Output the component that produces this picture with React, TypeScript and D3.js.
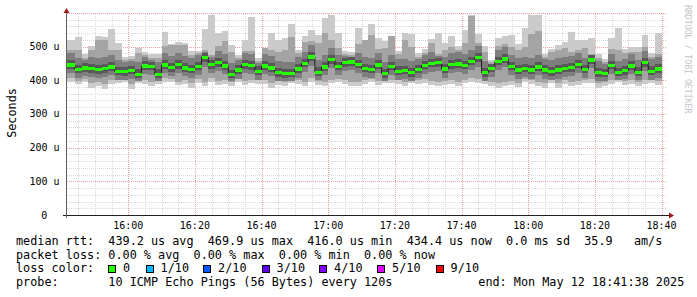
import React from 'react';
import * as d3 from 'd3';

// ---------- data (µs) ----------
const median = [445,445,432,436,434,431,434,439,426,425,429,418,442,441,418,445,437,446,436,432,441,468,446,452,442,417,430,446,443,427,442,436,422,419,420,433,450,469,424,439,461,441,452,454,447,435,432,445,419,441,427,429,422,432,444,450,452,433,446,448,444,456,467,422,435,456,463,441,430,435,430,439,430,425,430,435,437,447,432,460,422,420,444,423,428,442,424,452,427,433];
const ping10 = [519,519,528,477,501,530,528,551,511,469,471,496,484,477,477,542,508,514,511,487,488,551,594,540,545,504,474,519,588,465,496,540,519,525,567,491,531,548,534,584,594,540,487,483,554,519,566,525,517,531,487,541,537,482,492,521,539,510,530,501,548,594,538,501,461,525,531,534,507,554,593,593,477,494,504,513,542,519,519,525,477,464,525,554,492,498,498,534,481,540];
const ping9 = [489,489,489,465,489,519,519,489,490,460,462,480,475,465,465,501,504,504,504,475,482,490,474,501,517,485,465,487,487,458,496,489,484,490,528,480,513,517,509,541,520,495,478,475,507,519,533,494,495,531,478,519,500,470,480,509,479,490,500,490,510,590,511,485,455,502,506,499,490,499,538,545,470,485,489,495,484,490,495,477,465,455,494,491,480,485,485,500,470,479];
const ping8 = [480,480,467,459,469,466,469,474,461,454,456,453,469,459,453,480,472,481,471,467,476,484,468,487,477,452,459,481,478,452,477,471,457,454,455,468,485,504,459,474,496,476,472,469,482,470,467,480,454,476,462,464,457,464,474,485,473,468,481,483,479,491,502,457,449,491,498,476,465,470,465,474,464,460,465,470,472,482,467,471,457,449,479,458,463,477,459,487,462,468];
const ping7 = [459,459,446,450,448,445,448,453,440,439,443,432,456,455,432,459,451,460,450,446,455,482,460,466,456,431,444,460,457,441,456,450,436,433,434,447,464,483,438,453,475,455,466,468,461,449,446,459,433,455,441,443,436,446,458,464,466,447,460,462,458,470,481,436,449,470,477,455,444,449,444,453,444,439,444,449,451,461,446,474,436,434,458,437,442,456,438,466,441,447];
const ping6 = [449,449,436,440,438,435,438,443,430,429,433,422,446,445,422,449,441,450,440,436,445,472,450,456,446,421,434,450,447,431,446,440,426,423,424,437,454,473,428,443,465,445,456,458,451,439,436,449,423,445,431,433,426,436,448,454,456,437,450,452,448,460,471,426,439,460,467,445,434,439,434,443,434,429,434,439,441,451,436,464,426,424,448,427,432,446,428,456,431,437];
const ping5 = [441,441,428,432,430,427,430,435,422,421,425,414,438,437,414,441,433,442,432,428,437,464,442,448,438,413,426,442,439,423,438,432,418,415,416,429,446,465,420,435,457,437,448,450,443,431,428,441,415,437,423,425,418,428,440,446,448,429,442,444,440,452,463,418,431,452,459,437,426,431,426,435,426,421,426,431,433,443,428,456,418,416,440,419,424,438,420,448,423,429];
const ping4 = [433,433,420,424,422,419,422,427,414,413,417,407,430,429,407,433,425,434,424,420,429,455,434,440,430,406,418,434,431,415,430,424,410,408,409,421,438,456,412,427,449,429,440,442,435,423,420,433,408,429,415,417,410,420,432,438,440,421,434,436,432,444,454,410,423,444,451,429,418,423,418,427,418,413,418,423,425,435,420,448,410,409,432,411,416,430,412,440,415,421];
const ping3 = [420,420,408,412,410,407,410,414,402,401,405,398,417,416,398,420,412,421,411,407,416,440,421,427,417,397,405,421,418,402,417,411,399,398,399,408,425,442,400,414,435,416,427,429,422,410,407,420,398,416,402,404,399,407,419,425,427,408,421,423,419,431,440,399,410,431,438,416,405,410,405,414,405,401,405,410,412,422,407,435,399,398,419,400,403,417,400,427,402,408];
const ping2 = [406,406,398,403,393,396,390,400,402,403,390,401,400,396,400,406,404,396,400,393,403,396,406,398,400,396,404,398,402,400,400,393,398,396,402,400,396,406,398,394,402,404,400,396,394,400,404,398,402,402,400,396,402,400,403,398,394,398,400,396,402,406,403,400,396,393,394,398,392,404,400,396,392,402,393,400,394,398,402,403,393,396,400,404,398,400,394,400,402,398];
const ping1 = [396,396,388,394,378,382,374,388,391,394,374,391,388,382,389,396,394,385,388,377,391,382,396,386,388,384,394,386,391,388,388,377,386,384,391,388,382,396,386,382,391,394,388,384,382,388,394,386,392,391,388,384,391,388,392,386,382,386,388,384,391,396,392,388,384,377,382,386,379,394,388,383,377,391,377,388,382,386,391,392,377,384,388,394,386,388,382,388,391,386];

const yTicks = [0, 100, 200, 300, 400, 500];
const yTickLabels = ['0', '100 u', '200 u', '300 u', '400 u', '500 u'];
const xTickLabels = ['16:00', '16:20', '16:40', '17:00', '17:20', '17:40', '18:00', '18:20', '18:40'];

const legendLines = [
  'median rtt:  439.2 us avg  469.9 us max  416.0 us min  434.4 us now  0.0 ms sd  35.9   am/s',
  'packet loss: 0.00 % avg  0.00 % max  0.00 % min  0.00 % now',
  'loss color:',
  'probe:       10 ICMP Echo Pings (56 Bytes) every 120s',
];
const lossLabels = ['0', '1/10', '2/10', '3/10', '4/10', '5/10', '9/10'];
const lossColors = ['#26ff00', '#00b8ff', '#0059ff', '#5e00ff', '#7e00ff', '#dd00ff', '#ff0000'];
const lossBoxX = [108.5, 146, 203.5, 262, 319.5, 377.5, 436];

// ---------- layout ----------
const W = 697, H = 297;
const X0 = 67, X1 = 667, Y0 = 215, YT = 12.8;
const tStart = new Date(2025, 4, 12, 15, 41, 38);
const tEnd = new Date(2025, 4, 12, 18, 41, 38);
const tFirst = new Date(2025, 4, 12, 15, 42, 0);
const STEP = 120 * 1000;

const x = d3.scaleTime().domain([tStart, tEnd]).range([X0, X1]);
const y = d3.scaleLinear().domain([0, 600]).range([Y0, YT]);

const mono = "'DejaVu Sans Mono', monospace";

export default function App() {
  const n = median.length;
  const steps = d3.range(n).map((k) => {
    const e = new Date(tFirst.getTime() + k * STEP);
    const s = new Date(e.getTime() - STEP);
    return { x0: Math.max(X0, x(s)), x1: x(e) };
  });
  const bands: [number[], number[], string][] = [
    [ping1, ping10, '#cacaca'],
    [ping2, ping9, '#a4a4a4'],
    [ping3, ping8, '#7e7e7e'],
    [ping4, ping7, '#585858'],
    [ping5, ping6, '#323232'],
  ];
  const linePts: [number, number][] = [];
  steps.forEach((s, k) => {
    linePts.push([s.x0, y(median[k])]);
    linePts.push([s.x1, y(median[k])]);
  });
  const line = d3.line();

  const minorY = d3.range(20, 601, 20).filter((v) => v % 100 !== 0);
  const majorY = d3.range(100, 601, 100);
  const t5 = d3.timeMinute.every(5)!.range(tStart, tEnd);
  const minorX = t5.filter((t) => t.getMinutes() % 20 !== 0);
  const majorX = t5.filter((t) => t.getMinutes() % 20 === 0);

  return (
    <svg width={W} height={H} style={{ position: 'absolute', left: 0, top: 0, background: '#fff' }}>
      <rect x={0} y={0} width={W} height={H} fill="#fff" />
      {/* grid */}
      <g shapeRendering="crispEdges" strokeDasharray="1,1">
        {minorY.map((v) => (
          <line key={'my' + v} x1={X0} x2={X1} y1={Math.round(y(v)) + 0.5} y2={Math.round(y(v)) + 0.5} stroke="#d8d8d8" />
        ))}
        {minorX.map((t, i) => (
          <line key={'mx' + i} x1={Math.round(x(t)) + 0.5} x2={Math.round(x(t)) + 0.5} y1={Y0} y2={YT} stroke="#d8d8d8" />
        ))}
        {majorY.map((v) => (
          <line key={'My' + v} x1={X0} x2={X1} y1={Math.round(y(v)) + 0.5} y2={Math.round(y(v)) + 0.5} stroke="#e8a0a0" />
        ))}
        {majorX.map((t, i) => (
          <line key={'Mx' + i} x1={Math.round(x(t)) + 0.5} x2={Math.round(x(t)) + 0.5} y1={Y0} y2={YT} stroke="#e8a0a0" />
        ))}
      </g>
      {/* smoke */}
      <g shapeRendering="crispEdges">
        {bands.map(([lo, hi, c], b) =>
          steps.map((s, k) => (
            <rect key={b + '-' + k} x={s.x0} width={s.x1 - s.x0} y={y(hi[k])} height={Math.max(0, y(lo[k]) - y(hi[k]))} fill={c} />
          ))
        )}
      </g>
      {/* median */}
      <path d={line(linePts) || ''} fill="none" stroke="#202020" strokeWidth={1} />
      <g shapeRendering="crispEdges">
        {steps.map((s, k) => (
          <rect key={'g' + k} x={s.x0} width={s.x1 - s.x0} y={y(median[k]) - 1.6} height={3.2} fill="#26ff00" />
        ))}
      </g>
      {/* axes */}
      <line x1={63} x2={670} y1={Y0 + 0.5} y2={Y0 + 0.5} stroke="#202020" shapeRendering="crispEdges" />
      <line x1={X0 - 0.5} x2={X0 - 0.5} y1={Y0 + 3} y2={11} stroke="#606060" shapeRendering="crispEdges" />
      <path d={`M${X0 - 0.5},8 L${X0 - 3.5},13 L${X0 + 2.5},13 Z`} fill="#a01818" />
      <path d={`M674,${Y0 + 0.5} L669,${Y0 - 2.5} L669,${Y0 + 3.5} Z`} fill="#a01818" />
      {/* tick labels */}
      <g fontFamily={mono} fontSize={10} fill="#000">
        {yTicks.map((v, i) => (
          <text key={'yl' + v} x={v === 0 ? 47.3 : 59.5} y={y(v) + 3.5} textAnchor="end" style={{ whiteSpace: 'pre' }}>
            {yTickLabels[i]}
          </text>
        ))}
        {majorX.map((t, i) => (
          <text key={'xl' + i} x={x(t)} y={228.5} textAnchor="middle">
            {xTickLabels[i]}
          </text>
        ))}
      </g>
      <text transform="translate(15.5,113) rotate(-90)" textAnchor="middle" fontFamily={mono} fontSize={11.8} fill="#000">
        Seconds
      </text>
      <text transform="translate(685,5) rotate(90)" fontFamily={mono} fontSize={8.2} fill="#c4c4c4">
        RRDTOOL / TOBI OETIKER
      </text>
      {/* legend */}
      <g fontFamily={mono} fontSize={11.8} fill="#000">
        {legendLines.map((s, i) => (
          <text key={'lg' + i} x={16} y={245 + i * 13.67} style={{ whiteSpace: 'pre' }}>
            {s}
          </text>
        ))}
        {lossLabels.map((l, i) => (
          <g key={'ll' + i}>
            <rect x={lossBoxX[i]} y={265.8} width={7} height={7} fill={lossColors[i]} stroke="#000" strokeWidth={1} shapeRendering="crispEdges" />
            <text x={lossBoxX[i] + 14.6} y={272.3}>{l}</text>
          </g>
        ))}
        <text x={478.3} y={286} style={{ whiteSpace: 'pre' }}>
          end: Mon May 12 18:41:38 2025
        </text>
      </g>
    </svg>
  );
}
